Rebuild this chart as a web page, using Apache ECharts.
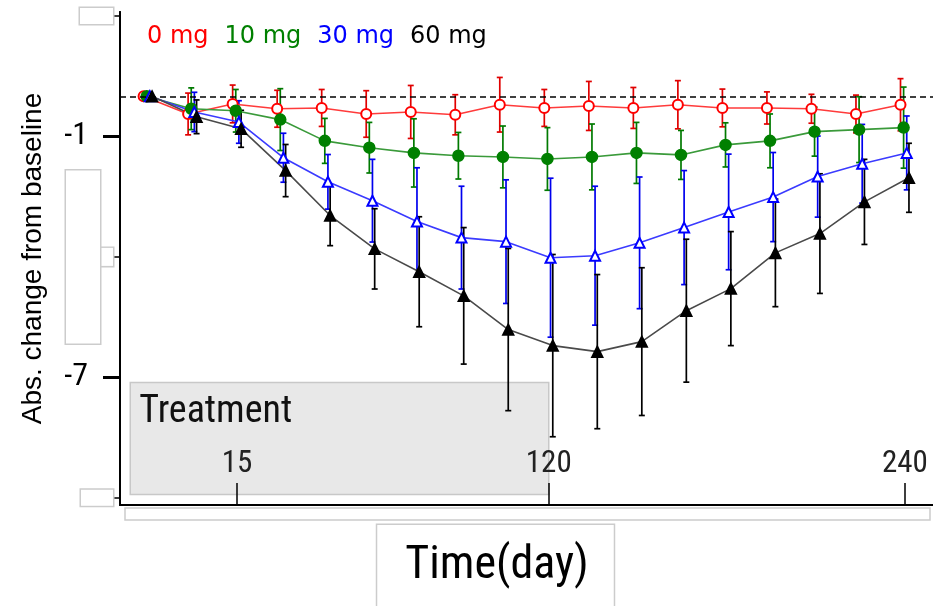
<!DOCTYPE html>
<html><head><meta charset="utf-8">
<script src="https://cdn.jsdelivr.net/npm/echarts@6/dist/echarts.min.js"></script>
<style>html,body{margin:0;padding:0;background:#fff}#c{width:933px;height:606px}</style>
</head><body><div id="c"></div>
<script>
// visit index (equally spaced visits)
const visits = [0,1,2,3,4,5,6,7,8,9,10,11,12,13,14,15,16,17];
const doseNames = ['0 mg','10 mg','30 mg','60 mg'];
const mean0  = [0,-0.44,-0.19,-0.31,-0.29,-0.44,-0.39,-0.46,-0.21,-0.29,-0.24,-0.29,-0.21,-0.29,-0.29,-0.31,-0.44,-0.21];
const err0   = [0,0.52,0.47,0.46,0.46,0.58,0.66,0.50,0.68,0.46,0.61,0.51,0.60,0.47,0.40,0.36,0.47,0.65];
const mean10 = [0,-0.31,-0.36,-0.58,-1.11,-1.28,-1.41,-1.48,-1.51,-1.56,-1.51,-1.41,-1.46,-1.21,-1.11,-0.88,-0.83,-0.78];
const err10  = [0,0.52,0.53,0.77,0.56,0.63,0.85,0.58,0.77,0.78,0.82,0.76,0.61,0.55,0.67,0.61,0.82,1.01];
const mean30 = [0,-0.39,-0.64,-1.53,-2.13,-2.60,-3.12,-3.52,-3.62,-4.02,-3.97,-3.65,-3.27,-2.88,-2.51,-2.00,-1.68,-1.41];
const err30  = [0,0.49,0.53,0.61,0.68,1.03,1.34,1.28,1.54,1.98,1.73,1.64,1.42,1.44,1.11,1.01,0.98,0.92];
const mean60 = [0,-0.51,-0.81,-1.85,-2.97,-3.80,-4.37,-4.97,-5.81,-6.21,-6.36,-6.11,-5.34,-4.79,-3.90,-3.42,-2.63,-2.03];
const err60  = [0,0.42,0.46,0.65,0.75,1.00,1.37,1.70,2.02,2.27,1.92,1.84,1.78,1.42,1.34,1.49,1.06,0.86];
// x tick labels (days) at visit indices
const xTickVisits = [2, 9, 17];
const xTickLabels = ['15', '120', '240'];
// y ticks
const yTicks = [2, -1, -4, -7, -10];
const yLabelled = [-1, -7];
const yBoxed = [2, -4, -10];
// treatment period (visit index span) and band height (y range)
const treatment = {label: 'Treatment', from: -0.4, to: 9, yTop: -7.13, yBottom: -9.92};

const NARROW = '"Liberation Sans Narrow","Arial Narrow","Roboto Condensed",sans-serif';
const styles = [
  {mean: mean0,  err: err0,  dx: -0.10, symbol: 'emptyCircle',   size: 10, line: '#ff3b3b', mark: '#ff0000', bar: '#e00000', text: '#ff0000'},
  {mean: mean10, err: err10, dx: -0.03, symbol: 'circle',        size: 11, line: '#3a9a3a', mark: '#008000', bar: '#007a00', text: '#008000'},
  {mean: mean30, err: err30, dx:  0.04, symbol: 'emptyTriangle', size: 10, line: '#3b3bff', mark: '#0000ff', bar: '#0000ee', text: '#0000ff'},
  {mean: mean60, err: err60, dx:  0.09, symbol: 'triangle',      size: 11, line: '#4a4a4a', mark: '#000000', bar: '#000000', text: '#000000'}
];

function errRender(color) {
  return function (params, api) {
    const x = api.value(0), y = api.value(1), e = api.value(2);
    if (!(e > 0)) return;
    const t = api.coord([x, y + e]), b = api.coord([x, y - e]);
    const hw = 3;
    const st = {stroke: color, lineWidth: 1.7};
    return {type: 'group', children: [
      {type: 'line', shape: {x1: t[0], y1: t[1], x2: b[0], y2: b[1]}, style: st},
      {type: 'line', shape: {x1: t[0] - hw, y1: t[1], x2: t[0] + hw, y2: t[1]}, style: st},
      {type: 'line', shape: {x1: b[0] - hw, y1: b[1], x2: b[0] + hw, y2: b[1]}, style: st}
    ]};
  };
}

const series = [];
series.push({
  type: 'custom', name: 'treat', z: 1, silent: true,
  data: [[treatment.from, treatment.yTop, treatment.to, treatment.yBottom]],
  encode: {x: [0, 2], y: [1, 3]},
  renderItem: function (params, api) {
    const p1 = api.coord([api.value(0), api.value(1)]);
    const p2 = api.coord([api.value(2), api.value(3)]);
    return {type: 'group', children: [
      {type: 'rect', shape: {x: p1[0], y: p1[1], width: p2[0] - p1[0], height: p2[1] - p1[1]},
       style: {fill: '#e8e8e8', stroke: '#c8c8c8', lineWidth: 1.5}},
      {type: 'text', x: p1[0] + 9, y: p1[1] + 11,
       style: {text: treatment.label, font: '38px ' + NARROW, fill: '#111', textVerticalAlign: 'top'}}
    ]};
  }
});
styles.forEach((s, i) => {
  const lineSeries = {
    type: 'line', name: doseNames[i], z: 3,
    data: visits.map((v, k) => [v + s.dx, s.mean[k]]),
    symbol: s.symbol, symbolSize: s.size, showSymbol: true,
    lineStyle: {color: s.line, width: 1.6},
    itemStyle: {color: s.mark, borderColor: s.mark, borderWidth: 1.5},
    emphasis: {disabled: true}, animation: false
  };
  if (i === 0) {
    lineSeries.markLine = {silent: true, symbol: 'none', label: {show: false},
      lineStyle: {color: '#000', type: [6, 4], width: 1.7}, data: [{yAxis: 0}], animation: false};
  }
  series.push(lineSeries);
  series.push({
    type: 'custom', name: doseNames[i], z: 3, silent: true,
    data: visits.map((v, k) => [v + s.dx, s.mean[k], s.err[k]]),
    encode: {x: 0, y: 1},
    renderItem: errRender(s.bar), animation: false
  });
});

const boxStyle = {backgroundColor: '#fff', borderColor: '#cccccc', borderWidth: 1.5, fontSize: 1};
const chart = echarts.init(document.getElementById('c'));
chart.setOption({
  animation: false,
  backgroundColor: '#fff',
  grid: {left: 120, right: 0, top: 12, bottom: 101, containLabel: false, outerBoundsMode: 'none'},
  legend: {
    left: 136, top: 20, itemWidth: 0, itemHeight: 0, itemGap: 10, icon: 'circle',
    selectedMode: false,
    textStyle: {fontFamily: '"DejaVu Sans",sans-serif', fontSize: 24},
    data: doseNames.map((n, i) => ({name: n, textStyle: {color: styles[i].text}}))
  },
  xAxis: {
    type: 'value', min: -0.63, max: 17.63, z: 10,
    axisLine: {onZero: false, lineStyle: {color: '#000', width: 2}},
    axisTick: {show: true, inside: true, length: 22, customValues: xTickVisits, lineStyle: {color: '#000', width: 1.5}},
    axisLabel: {show: true, inside: true, margin: 25, customValues: xTickVisits,
      formatter: v => xTickLabels[xTickVisits.indexOf(v)] || '',
      fontFamily: NARROW, fontSize: 31, color: '#222'},
    splitLine: {show: false},
    name: '{box|Time(day)}{sp| }', nameLocation: 'middle', nameGap: 20,
    nameTextStyle: {rich: {
      box: {fontFamily: NARROW, fontSize: 46, color: '#000', borderColor: '#cccccc', borderWidth: 1.5,
            padding: [18, 25, 30, 28], backgroundColor: '#fff'},
      sp: {width: 62, fontSize: 2}
    }}
  },
  yAxis: [{
    type: 'value', min: -10.18, max: 2.1, z: 10,
    axisLine: {show: true, onZero: false, lineStyle: {color: '#000', width: 2}},
    axisTick: {show: true, length: 17, customValues: yLabelled, lineStyle: {color: '#000', width: 3}},
    axisLabel: {show: true, margin: 32, customValues: yLabelled, formatter: v => String(v),
      fontFamily: NARROW, fontSize: 32, color: '#000'},
    splitLine: {show: false},
    name: 'Abs. change from baseline', nameLocation: 'middle', nameRotate: 90, nameGap: 73,
    nameTextStyle: {fontFamily: '"Liberation Sans",Arial,sans-serif', fontSize: 28, color: '#000'}
  }, {
    type: 'value', min: -10.18, max: 2.1, position: 'left', offset: 0, z: 11,
    axisLine: {show: true, onZero: false, lineStyle: {color: '#000', width: 2}},
    axisTick: {show: true, length: 6, customValues: yTicks, lineStyle: {color: '#000', width: 1.5}},
    axisLabel: {show: true, margin: 7, customValues: yBoxed,
      formatter: v => v === -4 ? '{b| }{n| }' : (v === 2 ? '{a| }' : '{c| }'),
      rich: {
        a: Object.assign({width: 33, height: 16}, boxStyle),
        b: Object.assign({width: 34, height: 173}, boxStyle),
        n: Object.assign({width: 13, height: 18}, boxStyle),
        c: Object.assign({width: 32, height: 16}, boxStyle)
      }},
    splitLine: {show: false}
  }],
  graphic: [{type: 'rect', z: -1, shape: {x: 125, y: 508, width: 805, height: 12},
    style: {fill: '#fff', stroke: '#cccccc', lineWidth: 1.5}}],
  series: series
});
</script></body></html>
